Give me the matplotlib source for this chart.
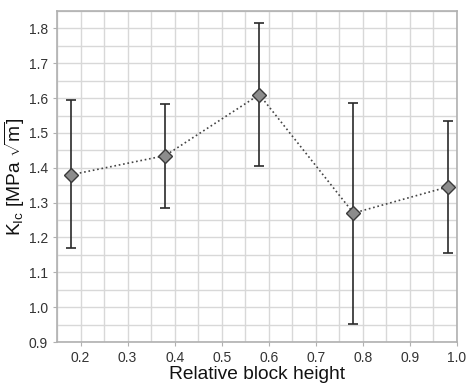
import numpy as np
import matplotlib.pyplot as plt
from matplotlib.ticker import MultipleLocator

plt.rcParams['font.family'] = ['Liberation Sans', 'DejaVu Sans']
plt.rcParams['mathtext.fontset'] = 'custom'
plt.rcParams['mathtext.rm'] = 'Liberation Sans'
plt.rcParams['mathtext.it'] = 'Liberation Sans:italic'

# valores
height = [0.18, 0.38, 0.58, 0.78, 0.98]
kic = [1.38, 1.435, 1.61, 1.27, 1.345]
kic_top = [1.595, 1.582, 1.815, 1.587, 1.535]
kic_bot = [1.170, 1.285, 1.405, 0.952, 1.155]

err_lo = np.array(kic) - np.array(kic_bot)
err_hi = np.array(kic_top) - np.array(kic)

fig = plt.figure(figsize=(4.68, 3.91), dpi=100)
ax = fig.add_axes([57 / 468, 1 - 342 / 391, 400 / 468, 331 / 391])

ax.plot(height, kic, ls=':', color='#444444', lw=1.2, zorder=3)
ax.errorbar(height, kic, yerr=[err_lo, err_hi], fmt='none', ecolor='#2a2a2a',
            elinewidth=1.2, capsize=3.8, capthick=1.2, zorder=4)
ax.plot(height, kic, ls='none', marker='D', ms=7.5, mfc='#8c8c8c',
        mec='#3a3a3a', mew=1.0, zorder=5)

ax.set_xlim(0.15, 1.0)
ax.set_ylim(0.9, 1.85)
ax.xaxis.set_minor_locator(MultipleLocator(0.05))
ax.yaxis.set_minor_locator(MultipleLocator(0.05))
ax.set_xticks(np.arange(0.2, 1.01, 0.1))
ax.set_xticklabels(['0.2', '0.3', '0.4', '0.5', '0.6', '0.7', '0.8', '0.9', '1.0'])
ax.set_yticks(np.arange(0.9, 1.81, 0.1))
ax.set_yticklabels(['0.9', '1.0', '1.1', '1.2', '1.3', '1.4', '1.5', '1.6', '1.7', '1.8'])

ax.grid(which='both', color='#d8d8d8', lw=1.0)
ax.set_axisbelow(True)
for s in ax.spines.values():
    s.set_color('#b0b0b0')
    s.set_linewidth(1.2)
ax.tick_params(which='major', length=3, color='#b0b0b0', labelsize=10,
               labelcolor='#333333')
ax.tick_params(which='minor', length=0)

ax.set_xlabel('Relative block height', fontsize=13.8, color='#111111', labelpad=1)
ax.set_ylabel(r'K$_{\mathrm{Ic}}$ [MPa $\sqrt{\mathrm{m}}$]', fontsize=13.8,
              color='#111111', va='center')
ax.yaxis.set_label_coords(-0.105, 0.5)

fig.savefig('out.png', dpi=100)
